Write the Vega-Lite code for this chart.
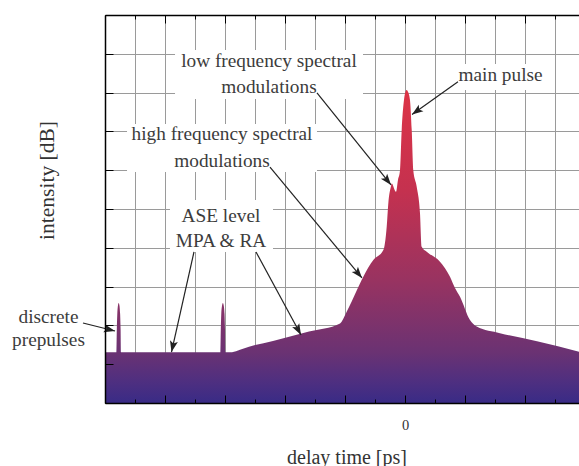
{
  "$schema": "https://vega.github.io/schema/vega-lite/v6.json",
  "width": 474,
  "height": 388,
  "autosize": "none",
  "padding": {"left": 105, "top": 15, "right": 0, "bottom": 63},
  "config": {"view": {"stroke": null}, "font": "Liberation Serif"},
  "datasets": {
    "arrows": [
      {"x": 0.883, "y": 8.281, "x2": 0.117, "y2": 7.436},
      {"x": -1.467, "y": 7.99, "x2": -0.233, "y2": 5.619},
      {"x": -2.25, "y": 6.082, "x2": -0.717, "y2": 3.222},
      {"x": -3.517, "y": 3.892, "x2": -3.892, "y2": 1.314},
      {"x": -2.483, "y": 3.892, "x2": -1.733, "y2": 1.753},
      {"x": -5.367, "y": 2.062, "x2": -4.833, "y2": 1.856}
    ]
  },
  "resolve": {"axis": {"x": "independent", "y": "independent"}},
  "layer": [
    {
      "data": {"values": [
        {"x": -5, "y": 1.31}, {"x": -4.81, "y": 1.31}, {"x": -4.803, "y": 1.9}, {"x": -4.795, "y": 2.3},
        {"x": -4.785, "y": 2.5}, {"x": -4.772, "y": 2.58}, {"x": -4.758, "y": 2.5}, {"x": -4.748, "y": 2.3},
        {"x": -4.74, "y": 1.9}, {"x": -4.733, "y": 1.31}, {"x": -3.078, "y": 1.31}, {"x": -3.07, "y": 1.9},
        {"x": -3.062, "y": 2.3}, {"x": -3.05, "y": 2.5}, {"x": -3.035, "y": 2.58}, {"x": -3.02, "y": 2.5},
        {"x": -3.008, "y": 2.3}, {"x": -3.0, "y": 1.9}, {"x": -2.992, "y": 1.31}, {"x": -2.883, "y": 1.31},
        {"x": -2.75, "y": 1.37}, {"x": -2.6, "y": 1.45}, {"x": -2.2, "y": 1.6}, {"x": -1.6, "y": 1.84},
        {"x": -1.083, "y": 2.05}, {"x": -0.972, "y": 2.35}, {"x": -0.805, "y": 2.9}, {"x": -0.695, "y": 3.255},
        {"x": -0.528, "y": 3.686}, {"x": -0.361, "y": 3.943}, {"x": -0.305, "y": 4.544}, {"x": -0.278, "y": 5.147},
        {"x": -0.233, "y": 5.59}, {"x": -0.222, "y": 5.66}, {"x": -0.15, "y": 5.446},
        {"x": -0.117, "y": 5.75}, {"x": -0.083, "y": 6.0}, {"x": -0.055, "y": 7.04}, {"x": -0.017, "y": 7.81},
        {"x": 0.008, "y": 8.02}, {"x": 0.028, "y": 8.07}, {"x": 0.05, "y": 8.02}, {"x": 0.083, "y": 7.81},
        {"x": 0.112, "y": 7.04}, {"x": 0.138, "y": 6.0}, {"x": 0.195, "y": 5.575}, {"x": 0.25, "y": 4.889},
        {"x": 0.278, "y": 4.028}, {"x": 0.362, "y": 3.9}, {"x": 0.583, "y": 3.642}, {"x": 0.75, "y": 3.255},
        {"x": 0.833, "y": 2.964}, {"x": 0.917, "y": 2.74}, {"x": 1.083, "y": 2.14}, {"x": 1.195, "y": 1.97},
        {"x": 1.583, "y": 1.8}, {"x": 2.2, "y": 1.59}, {"x": 2.9, "y": 1.32}
      ]},
      "mark": {
        "type": "area",
        "interpolate": "monotone",
        "color": {
          "gradient": "linear", "x1": 0, "y1": 1, "x2": 0, "y2": 0,
          "stops": [
            {"offset": 0, "color": "#392b86"},
            {"offset": 0.07, "color": "#4f2f80"},
            {"offset": 0.16, "color": "#6a3273"},
            {"offset": 0.39, "color": "#983361"},
            {"offset": 0.68, "color": "#c5314f"},
            {"offset": 1, "color": "#dc3446"}
          ]
        }
      },
      "encoding": {
        "x": {
          "field": "x", "type": "quantitative",
          "scale": {"domain": [-5, 2.9], "nice": false, "zero": false},
          "axis": {
            "orient": "bottom",
            "values": [-5, -4.5, -4, -3.5, -3, -2.5, -2, -1.5, -1, -0.5, 0, 0.5, 1, 1.5, 2, 2.5],
            "grid": true, "gridColor": "#9a9a9a", "gridWidth": 1,
            "domain": false, "ticks": false, "labels": false, "title": null, "zindex": 0
          }
        },
        "y": {
          "field": "y", "type": "quantitative",
          "scale": {"domain": [0, 10], "nice": false},
          "axis": {
            "orient": "left",
            "values": [0, 1, 2, 3, 4, 5, 6, 7, 8, 9, 10],
            "grid": true, "gridColor": "#9a9a9a", "gridWidth": 1,
            "domain": false, "ticks": false, "labels": false, "title": null, "zindex": 0
          }
        }
      }
    },
    {
      "data": {"values": [
        {"x": -3.833, "x2": -0.7, "y": 9.098, "y2": 7.835},
        {"x": -4.633, "x2": -1.467, "y": 7.19, "y2": 5.954},
        {"x": -3.917, "x2": -2.2, "y": 5.232, "y2": 3.892},
        {"x": 0.833, "x2": 2.383, "y": 8.737, "y2": 8.067}
      ]},
      "mark": {"type": "rect", "color": "#ffffff"},
      "encoding": {
        "x": {
          "field": "x", "type": "quantitative",
          "axis": {
            "orient": "top",
            "values": [-5, -4.5, -4, -3.5, -3, -2.5, -2, -1.5, -1, -0.5, 0, 0.5, 1, 1.5, 2, 2.5],
            "grid": false, "labels": false, "title": null,
            "domainColor": "#000000", "domainWidth": 1.5,
            "tickColor": "#000000", "tickWidth": 1, "tickSize": -4, "zindex": 1
          }
        },
        "x2": {"field": "x2"},
        "y": {
          "field": "y", "type": "quantitative",
          "axis": {
            "orient": "left",
            "values": [0, 1, 2, 3, 4, 5, 6, 7, 8, 9, 10],
            "grid": false,
            "domainColor": "#000000", "domainWidth": 1.5,
            "tickColor": "#000000", "tickWidth": 1, "tickSize": -8,
            "labels": false, "zindex": 1,
            "title": "intensity [dB]",
            "titleFont": "Liberation Serif", "titleFontSize": 21.5, "titleFontWeight": "normal",
            "titleColor": "#333333", "titleX": -52, "titleY": 165, "titleBaseline": "alphabetic", "titleAngle": -90
          }
        },
        "y2": {"field": "y2"}
      }
    },
    {
      "data": {"name": "arrows"},
      "mark": {"type": "rule", "color": "#222222", "strokeWidth": 1.2},
      "encoding": {
        "x": {
          "field": "x", "type": "quantitative",
          "axis": {
            "orient": "bottom",
            "values": [-4, -3, -2, -1, 0, 1, 2],
            "grid": false, "domain": false, "zindex": 1,
            "tickColor": "#000000", "tickWidth": 1, "tickSize": -8,
            "labelExpr": "datum.value === 0 ? '0' : ''",
            "labelFont": "Liberation Serif", "labelFontSize": 14.5, "labelColor": "#333333",
            "labelPadding": 23,
            "title": "delay time [ps]",
            "titleFont": "Liberation Serif", "titleFontSize": 20, "titleFontWeight": "normal",
            "titleColor": "#333333", "titleX": 241.5, "titleY": 60, "titleBaseline": "alphabetic"
          }
        },
        "y": {"field": "y", "type": "quantitative", "axis": null},
        "x2": {"field": "x2"},
        "y2": {"field": "y2"}
      }
    },
    {
      "data": {"name": "arrows"},
      "transform": [
        {"calculate": "atan2((datum.x2 - datum.x) * 60, (datum.y2 - datum.y) * 38.8) * 180 / PI", "as": "ang"}
      ],
      "mark": {"type": "point", "shape": "M0,0L0.36,1L0,0.78L-0.36,1Z", "filled": true, "color": "#222222", "opacity": 1, "size": 500, "strokeWidth": 0},
      "encoding": {
        "x": {
          "field": "x2", "type": "quantitative",
          "axis": {
            "orient": "top",
            "values": [-4, -3, -2, -1, 0, 1, 2],
            "grid": false, "domain": false, "labels": false, "title": null, "zindex": 1,
            "tickColor": "#000000", "tickWidth": 1, "tickSize": -8
          }
        },
        "y": {"field": "y2", "type": "quantitative", "axis": null},
        "angle": {"field": "ang", "type": "quantitative", "scale": null}
      }
    },
    {
      "data": {"values": [
        {"x": -2.267, "y": 8.67, "t": "low frequency spectral"},
        {"x": -2.267, "y": 7.982, "t": "modulations"},
        {"x": -3.05, "y": 6.778, "t": "high frequency spectral"},
        {"x": -3.05, "y": 6.09, "t": "modulations"},
        {"x": -3.067, "y": 4.673, "t": "ASE level"},
        {"x": -3.067, "y": 4.013, "t": "MPA & RA"},
        {"x": 1.592, "y": 8.307, "t": "main pulse"},
        {"x": -5.942, "y": 2.054, "t": "discrete"},
        {"x": -5.942, "y": 1.469, "t": "prepulses"}
      ]},
      "mark": {"type": "text", "font": "Liberation Serif", "fontSize": 19.3, "color": "#3c3c3c", "align": "center", "baseline": "alphabetic"},
      "encoding": {
        "x": {
          "field": "x", "type": "quantitative",
          "axis": {
            "orient": "bottom",
            "values": [-5, -4.5, -4, -3.5, -3, -2.5, -2, -1.5, -1, -0.5, 0, 0.5, 1, 1.5, 2, 2.5],
            "grid": false, "labels": false, "title": null,
            "domainColor": "#000000", "domainWidth": 1.5,
            "tickColor": "#000000", "tickWidth": 1, "tickSize": -4, "zindex": 1
          }
        },
        "y": {"field": "y", "type": "quantitative", "axis": null},
        "text": {"field": "t"}
      }
    }
  ]
}
